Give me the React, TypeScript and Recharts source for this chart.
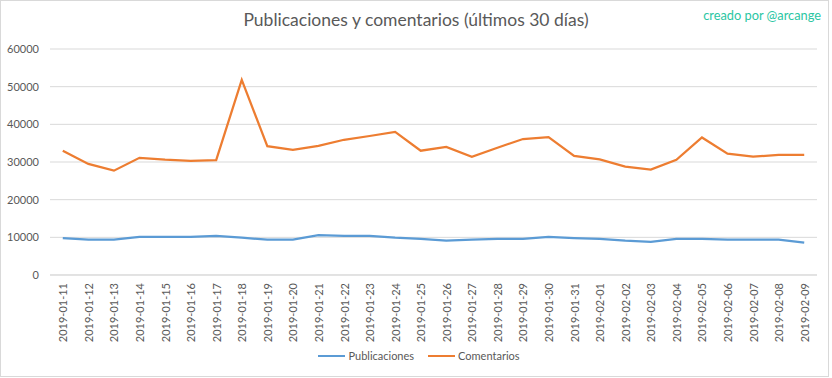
import React from "react";
import { LineChart, Line, XAxis, YAxis, CartesianGrid } from "recharts";

const dates = [
  "2019-01-11", "2019-01-12", "2019-01-13", "2019-01-14", "2019-01-15",
  "2019-01-16", "2019-01-17", "2019-01-18", "2019-01-19", "2019-01-20",
  "2019-01-21", "2019-01-22", "2019-01-23", "2019-01-24", "2019-01-25",
  "2019-01-26", "2019-01-27", "2019-01-28", "2019-01-29", "2019-01-30",
  "2019-01-31", "2019-02-01", "2019-02-02", "2019-02-03", "2019-02-04",
  "2019-02-05", "2019-02-06", "2019-02-07", "2019-02-08", "2019-02-09",
];

const publicaciones = [
  9800, 9400, 9400, 10100, 10100, 10100, 10400, 9900, 9400, 9400,
  10600, 10400, 10400, 9900, 9600, 9100, 9400, 9600, 9600, 10100,
  9800, 9600, 9100, 8800, 9600, 9600, 9400, 9400, 9400, 8600,
];

const comentarios = [
  33000, 29500, 27700, 31100, 30600, 30300, 30500, 51800, 34200, 33200,
  34300, 35900, 36900, 38000, 33000, 34000, 31400, 33800, 36100, 36600,
  31600, 30700, 28800, 28000, 30600, 36500, 32200, 31400, 31900, 31900,
];

const yTicks = [0, 10000, 20000, 30000, 40000, 50000, 60000];

const seriesNames = ["Publicaciones", "Comentarios"];
const colors = ["#5B9BD5", "#ED7D31"];

const data = dates.map((d, i) => ({
  date: d,
  Publicaciones: publicaciones[i],
  Comentarios: comentarios[i],
}));

const FONT = "Lato, 'Open Sans', sans-serif";
const TEXT = "#595959";

const XTick = (props: any) => {
  const { x, y, payload } = props;
  return (
    <text
      x={x}
      y={y}
      transform={`rotate(-90 ${x} ${y})`}
      textAnchor="end"
      dominantBaseline="central"
      fill={TEXT}
      fontSize={11}
      fontFamily={FONT}
    >
      {payload.value}
    </text>
  );
};

export default function App() {
  return (
    <div
      style={{
        position: "absolute",
        left: 0,
        top: 0,
        width: 832,
        height: 378,
        background: "#fff",
      }}
    >
      <div
        style={{
          position: "absolute",
          left: 0,
          top: 0,
          width: 829,
          height: 377,
          border: "1px solid #D9D9D9",
          boxSizing: "border-box",
        }}
      />
      <div
        style={{
          position: "absolute",
          left: 0,
          top: 9,
          width: 832,
          textAlign: "center",
          fontFamily: FONT,
          fontSize: 17.5,
          color: TEXT,
        }}
      >
        Publicaciones y comentarios (últimos 30 días)
      </div>
      <div
        style={{
          position: "absolute",
          right: 11,
          top: 7,
          fontFamily: FONT,
          fontSize: 12.8,
          color: "#2BC6A3",
        }}
      >
        creado por @arcange
      </div>
      <div style={{ position: "absolute", left: 0, top: 0 }}>
        <LineChart
          width={832}
          height={378}
          data={data}
          margin={{ top: 49, right: 15, left: 0, bottom: 31 }}
        >
          <CartesianGrid vertical={false} stroke="#D9D9D9" strokeWidth={1} />
          <XAxis
            dataKey="date"
            scale="band"
            interval={0}
            axisLine={{ stroke: "#D9D9D9" }}
            tickLine={false}
            tickSize={0}
            tickMargin={8}
            height={72}
            tick={<XTick />}
          />
          <YAxis
            width={50}
            domain={[0, 60000]}
            ticks={yTicks}
            axisLine={false}
            tickLine={false}
            tickSize={0}
            tickMargin={11}
            tick={{ fill: TEXT, fontSize: 11, fontFamily: FONT }}
          />
          {seriesNames.map((name, i) => (
            <Line
              key={name}
              type="linear"
              dataKey={name}
              stroke={colors[i]}
              strokeWidth={2.25}
              dot={false}
              isAnimationActive={false}
            />
          ))}
        </LineChart>
      </div>
      <div
        style={{
          position: "absolute",
          left: 0,
          top: 349,
          width: 832,
          display: "flex",
          justifyContent: "center",
          fontFamily: FONT,
          fontSize: 11,
          color: TEXT,
          transform: "translateX(3px)",
        }}
      >
        {seriesNames.map((name, i) => (
          <div
            key={name}
            style={{ display: "flex", alignItems: "center", marginRight: i === 0 ? 14 : 0 }}
          >
            <div
              style={{
                width: 27,
                height: 2,
                background: colors[i],
                marginRight: 3,
              }}
            />
            <span>{name}</span>
          </div>
        ))}
      </div>
    </div>
  );
}
